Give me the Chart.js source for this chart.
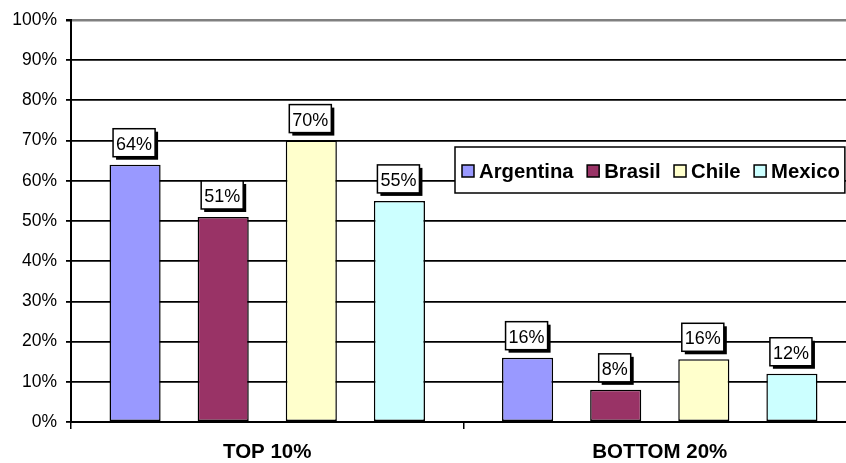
<!DOCTYPE html>
<html>
<head>
<meta charset="utf-8">
<script src="https://cdn.jsdelivr.net/npm/chart.js@4"></script>
<style>
  html, body { margin: 0; padding: 0; background: #fff; overflow: hidden; }
  .wrap { width: 856px; height: 463px; }
</style>
</head>
<body>
<div class="wrap"><canvas class="my-chart"></canvas></div>
<script>
// data
const categories = ['TOP 10%', 'BOTTOM 20%'];
const countries = ['Argentina', 'Brasil', 'Chile', 'Mexico'];
const argentina = [64, 16];
const brasil = [51, 8];
const chile = [70, 15.6];
const mexico = [55, 12];
const colores = ['#9999FF', '#993366', '#FFFFCC', '#CCFFFF'];

const series = [argentina, brasil, chile, mexico];
const FONT = '"Liberation Sans", Arial, sans-serif';

// boxed value labels with shadow, like excel
const etiquetas = {
  id: 'etiquetas',
  afterDatasetsDraw(chart) {
    const ctx = chart.ctx;
    ctx.save();
    ctx.font = '18px ' + FONT;
    ctx.textAlign = 'center';
    ctx.textBaseline = 'middle';
    chart.data.datasets.forEach((ds, i) => {
      chart.getDatasetMeta(i).data.forEach((bar, j) => {
        const txt = Math.round(ds.data[j]) + '%';
        const w = ctx.measureText(txt).width + 6;
        const h = 28;
        const x = bar.x - w / 2 - 1;
        const y = bar.y - 8 - h;
        ctx.fillStyle = '#000';
        ctx.fillRect(x + 3, y + 3, w, h);
        ctx.fillStyle = '#fff';
        ctx.fillRect(x, y, w, h);
        ctx.lineWidth = 1.5;
        ctx.strokeStyle = '#000';
        ctx.strokeRect(x, y, w, h);
        ctx.fillStyle = '#000';
        ctx.fillText(txt, x + w / 2, y + h / 2 + 2);
      });
    });
    ctx.restore();
  }
};

// legend box inside the plot
const leyenda = {
  id: 'leyenda',
  afterDraw(chart) {
    const ctx = chart.ctx;
    ctx.save();
    ctx.font = 'bold 20.3px ' + FONT;
    ctx.textBaseline = 'middle';
    const left = 455, top = 147, h = 46;
    let x = left + 6;
    const items = chart.data.datasets.map(ds => {
      const it = { label: ds.label, color: ds.backgroundColor, x: x };
      x += 18 + ctx.measureText(ds.label).width + 12.5;
      return it;
    });
    const w = x - 12.5 + 5 - left;
    ctx.fillStyle = '#fff';
    ctx.fillRect(left, top, w, h);
    ctx.lineWidth = 1.5;
    ctx.strokeStyle = '#000';
    ctx.strokeRect(left, top, w, h);
    const cy = top + h / 2 + 1;
    items.forEach(it => {
      ctx.fillStyle = it.color;
      ctx.fillRect(it.x + 1, cy - 6, 12, 12);
      ctx.strokeRect(it.x + 1, cy - 6, 12, 12);
      ctx.fillStyle = '#000';
      ctx.fillText(it.label, it.x + 18, cy + 1);
    });
    ctx.restore();
  }
};

const myChart = document.querySelector('.my-chart');
new Chart(myChart, {
  type: 'bar',
  data: {
    labels: categories,
    datasets: countries.map((c, i) => ({
      label: c,
      data: series[i],
      backgroundColor: colores[i],
      borderColor: '#000',
      borderWidth: 1.5,
      borderSkipped: false,
      categoryPercentage: 0.898,
      barPercentage: 0.58
    }))
  },
  options: {
    responsive: true,
    maintainAspectRatio: false,
    animation: false,
    layout: { padding: { top: 20, left: 0, right: 0, bottom: 0 } },
    plugins: {
      legend: { display: false },
      tooltip: { enabled: false }
    },
    scales: {
      x: {
        offset: true,
        grid: {
          offset: true,
          drawOnChartArea: false,
          drawTicks: true,
          tickLength: 7,
          color: '#000',
          lineWidth: 1.5
        },
        border: { color: '#000', width: 2 },
        ticks: {
          color: '#000',
          padding: 11,
          font: { family: FONT, size: 20.5, weight: 'bold' }
        },
        afterFit: s => { s.height = 41; }
      },
      y: {
        min: 0,
        max: 100,
        ticks: {
          stepSize: 10,
          color: '#000',
          padding: 9,
          font: { family: FONT, size: 17.5 },
          callback: v => v + '%'
        },
        grid: {
          color: c => c.tick && c.tick.value === 100 ? '#808080' : '#000',
          lineWidth: c => c.tick && c.tick.value === 100 ? 2.5 : 1.8,
          tickLength: 5,
          tickColor: '#000'
        },
        border: { color: '#000', width: 2 },
        afterFit: s => { s.width = 71; }
      }
    }
  },
  plugins: [etiquetas, leyenda]
});
</script>
</body>
</html>
